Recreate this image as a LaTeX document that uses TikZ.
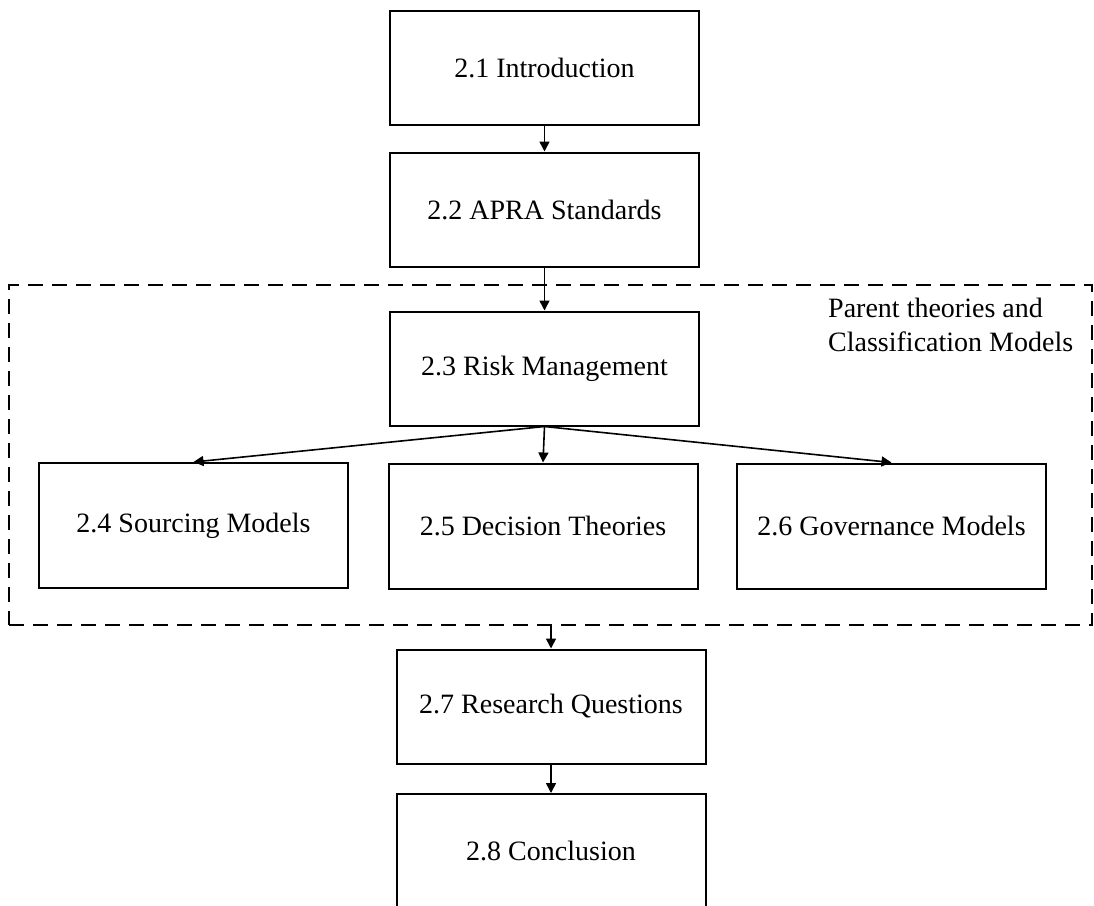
\documentclass[tikz,border=0pt]{standalone}
\usepackage{fontspec}
\setmainfont{Liberation Serif}
\usetikzlibrary{arrows.meta}

\tikzset{
  chapter/.style={draw, line width=2pt, minimum width=309pt, minimum height=114pt,
    inner sep=0pt, font=\fontsize{28}{33}\selectfont},
  subbox/.style={chapter, minimum height=125pt},
  flow/.style={line width=1.6pt, -{Triangle[length=10pt,width=10pt]}},
  group/.style={draw, line width=1.8pt, dash pattern=on 15pt off 9pt, inner sep=0pt},
  grouplabel/.style={align=left, inner sep=0pt, font=\fontsize{28}{34}\selectfont}
}

\begin{document}
\begin{tikzpicture}[x=1pt, y=-1pt]
  \useasboundingbox (0,0) rectangle (1094,905);
  \clip (0,0) rectangle (1094,905);

  % dashed frame around the theory chapters
  \node[group, minimum width=1083pt, minimum height=340pt] (frame) at (550.5,455) {};
  \node[grouplabel, anchor=north west] (lbl) at (828,298) {Parent theories and\\Classification Models};

  % chapter boxes
  \node[chapter] (b1) at (544.5,68) {2.1 Introduction};
  \node[chapter] (b2) at (544.5,209.5) {2.2 APRA Standards};
  \node[chapter] (b3) at (544.5,368.5) {2.3 Risk Management};
  \node[subbox] (b4) at (193.5,525.5) {2.4 Sourcing Models};
  \node[subbox] (b5) at (543,526) {2.5 Decision Theories};
  \node[subbox] (b6) at (891.5,526) {2.6 Governance Models};
  \node[chapter] (b7) at (551,706.5) {2.7 Research Questions};
  \node[chapter] (b8) at (551,851) {2.8 Conclusion};

  % connectors
  \draw[flow] (b1.south) -- (b2.north);
  \draw[flow] (b2.south) -- (b3.north);
  \draw[flow] (b3.south) -- (b4.north);
  \draw[flow] (b3.south) -- (b5.north);
  \draw[flow] (b3.south) -- (b6.north);
  \coordinate (fout) at (frame.south -| b7.north);
  \draw[flow] (fout) -- (b7.north);
  \draw[flow] (b7.south) -- (b8.north);
\end{tikzpicture}
\end{document}
